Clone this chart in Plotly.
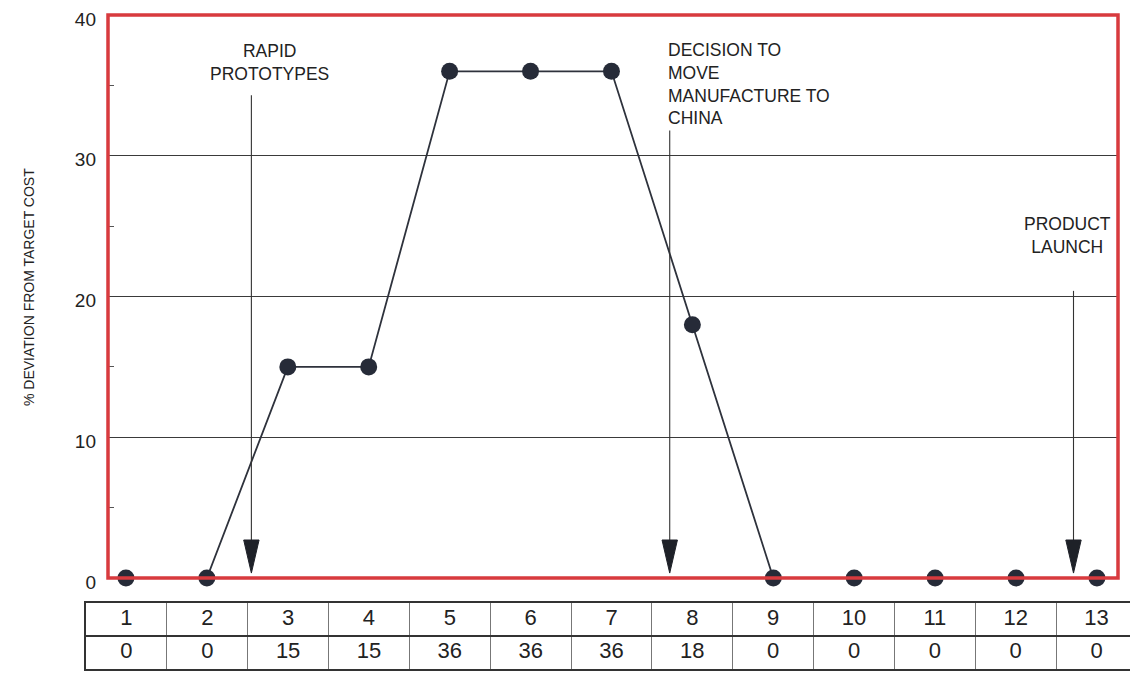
import plotly.graph_objects as go

# ---- data ----
periods = [1, 2, 3, 4, 5, 6, 7, 8, 9, 10, 11, 12, 13]
deviation = [0, 0, 15, 15, 36, 36, 36, 18, 0, 0, 0, 0, 0]
y_ticks = [0, 10, 20, 30, 40]

event_labels = ["RAPID<br>PROTOTYPES",
                "DECISION TO<br>MOVE<br>MANUFACTURE TO<br>CHINA",
                "PRODUCT<br>LAUNCH"]
event_x = [2.55, 7.72, 12.71]        # arrow position on the period axis
event_top = [34.3, 31.8, 20.4]        # arrow start (deviation units)
label_x = [2.78, 7.67, 12.63]
label_y = [36.6, 35.1, 24.3]
label_anchor = ["center", "left", "center"]

# page has an 8px body margin; lay out in reference pixel coords minus it
OFF = 8
W, H = 1138 - OFF, 674 - OFF


def fx(px):
    return (px - OFF) / W


def fy(py):
    return 1 - (py - OFF) / H


RED = "#d83a3e"
DARK = "#262b38"
FONT = "Arial, Liberation Sans, sans-serif"

fig = go.Figure()

# main series
fig.add_trace(go.Scatter(
    x=periods, y=deviation, mode="lines+markers",
    line=dict(color="#2e323c", width=1.8),
    marker=dict(size=17, color=DARK),
    cliponaxis=False, showlegend=False, hoverinfo="x+y"))

# event arrows (shaft + narrow triangular head)
head_h, head_hw, tip = 2.35, 0.095, 0.35
for ex, et in zip(event_x, event_top):
    fig.add_trace(go.Scatter(
        x=[ex, ex], y=[et, tip + head_h], mode="lines",
        line=dict(color="#333333", width=1.1),
        showlegend=False, hoverinfo="skip"))
    fig.add_trace(go.Scatter(
        x=[ex - head_hw, ex + head_hw, ex, ex - head_hw],
        y=[tip + head_h, tip + head_h, tip, tip + head_h],
        mode="lines", fill="toself", fillcolor="#1e2128",
        line=dict(color="#1e2128", width=1),
        showlegend=False, hoverinfo="skip"))

# event labels
for txt, lx, ly, anc in zip(event_labels, label_x, label_y, label_anchor):
    fig.add_annotation(x=lx, y=ly, xref="x", yref="y", text=txt,
                       showarrow=False, xanchor=anc, yanchor="middle",
                       align=anc, font=dict(family=FONT, size=17.5, color="#222222"))

# table below the chart (x2/y2)
fig.add_trace(go.Scatter(
    x=periods, y=[1.5] * len(periods), mode="text",
    text=[str(p) for p in periods], xaxis="x2", yaxis="y2",
    textfont=dict(family=FONT, size=22, color="#222222"),
    showlegend=False, hoverinfo="skip"))
fig.add_trace(go.Scatter(
    x=periods, y=[0.5] * len(periods), mode="text",
    text=[str(v) for v in deviation], xaxis="x2", yaxis="y2",
    textfont=dict(family=FONT, size=22, color="#222222"),
    showlegend=False, hoverinfo="skip"))

# red frame around plot area
fig.add_shape(type="rect", xref="x domain", yref="y domain",
              x0=0, x1=1, y0=0, y1=1, line=dict(color=RED, width=3.5),
              layer="above")

fig.update_layout(
    width=W, height=H,
    margin=dict(l=0, r=0, t=0, b=0, autoexpand=False),
    paper_bgcolor="white", plot_bgcolor="white",
    font=dict(family=FONT, color="#222222"),
    xaxis=dict(domain=[fx(108), fx(1118)], range=[0.778, 13.26],
               showgrid=False, zeroline=False, showticklabels=False,
               ticks="", showline=False, fixedrange=True, automargin=False),
    yaxis=dict(domain=[fy(578), fy(15)], range=[0, 40],
               tickvals=y_ticks, showgrid=True, gridcolor="#3a3a3a",
               gridwidth=1.1, zeroline=False, showline=False,
               ticks="", ticklabelstandoff=11, automargin=False,
               ticklabeloverflow="allow", ticklabelshift=4,
               tickfont=dict(family=FONT, size=19, color="#222222"),
               minor=dict(tickvals=[5, 15, 25, 35], ticks="inside",
                          ticklen=6, tickcolor="#555555", showgrid=False),
               fixedrange=True),
    xaxis2=dict(domain=[fx(86), fx(1137)], range=[0.5, 13.5],
                anchor="y2", tickvals=[p + 0.5 for p in [0] + periods],
                showgrid=True, gridcolor="#777777", gridwidth=1,
                showticklabels=False, ticks="", zeroline=False,
                showline=True, mirror=True, linecolor="#333333",
                linewidth=1.5, fixedrange=True, automargin=False),
    yaxis2=dict(domain=[fy(669), fy(603)], range=[0, 2],
                anchor="x2", tickvals=[1], showgrid=True,
                gridcolor="#333333", gridwidth=1.5,
                showticklabels=False, ticks="", zeroline=False,
                showline=True, mirror=True, linecolor="#333333",
                linewidth=1.5, fixedrange=True, automargin=False),
)

# y-axis title
fig.add_annotation(x=fx(19), y=fy(287), xref="paper", yref="paper",
                   text="% DEVIATION FROM TARGET COST", textangle=-90,
                   showarrow=False, font=dict(family=FONT, size=14, color="#222222"))

fig.write_html("out.html")
